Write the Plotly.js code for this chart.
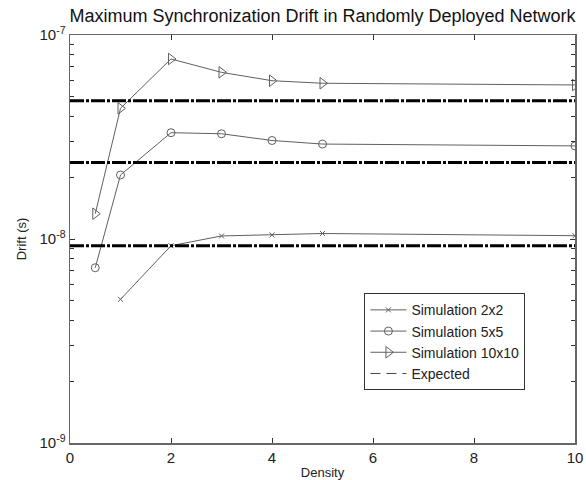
<!DOCTYPE html>
<html>
<head>
<meta charset="utf-8">
<script src="https://cdn.plot.ly/plotly-3.0.1.min.js"></script>
<style>html,body{margin:0;padding:0;background:#fff;}#chart{width:586px;height:480px;}</style>
</head>
<body>
<div id="chart"></div>
<script>
// Data
const density2x2 = [1, 2, 3, 4, 5, 10];
const drift2x2 = [5.06e-9, 9.27e-9, 1.035e-8, 1.047e-8, 1.064e-8, 1.038e-8];
const density5x5 = [0.5, 1, 2, 3, 4, 5, 10];
const drift5x5 = [7.23e-9, 2.06e-8, 3.32e-8, 3.28e-8, 3.04e-8, 2.92e-8, 2.86e-8];
const density10x10 = [0.5, 1, 2, 3, 4, 5, 10];
const drift10x10 = [1.33e-8, 4.37e-8, 7.63e-8, 6.56e-8, 5.97e-8, 5.80e-8, 5.69e-8];
const expectedX = [0, 10];
const expectedLevels = [9.26e-9, 2.37e-8, 4.76e-8];
const yDecades = [1e-9, 1e-8, 1e-7];
const yDecadeLabels = ['10<sup>-9</sup>', '10<sup>-8</sup>', '10<sup>-7</sup>'];
const yMinorMultipliers = [2, 3, 4, 5, 6, 7, 8, 9];
const xTicks = [0, 2, 4, 6, 8, 10];

const lineColor = '#606060';
const traces = [
  {x: density2x2, y: drift2x2, name: 'Simulation 2x2', mode: 'lines+markers',
   line: {color: lineColor, width: 1},
   marker: {symbol: 'x-thin-open', size: 5, color: lineColor, line: {color: lineColor, width: 1}}},
  {x: density5x5, y: drift5x5, name: 'Simulation 5x5', mode: 'lines+markers',
   line: {color: lineColor, width: 1},
   marker: {symbol: 'circle-open', size: 8, color: lineColor, line: {color: lineColor, width: 1}}},
  {x: density10x10, y: drift10x10, name: 'Simulation 10x10', mode: 'lines+markers',
   line: {color: lineColor, width: 1},
   marker: {symbol: 'triangle-right-open', size: 10, color: lineColor, line: {color: lineColor, width: 1}}}
];
expectedLevels.forEach((lv) => {
  traces.push({x: expectedX, y: expectedX.map(() => lv), name: 'Expected', mode: 'lines',
    showlegend: false, legendgroup: 'exp',
    line: {color: '#000', width: 3, dash: '14px,2px,3px,2px'}});
});
// legend entry for Expected (thin dashed sample as in the reference legend)
traces.push({x: [null], y: [null], name: 'Expected', mode: 'lines', legendgroup: 'exp',
  showlegend: true, line: {color: '#444', width: 1, dash: '10px,6px'}});

const yMinorVals = [];
for (let d = 0; d < yDecades.length - 1; d++) {
  yMinorMultipliers.forEach(m => yMinorVals.push(m * yDecades[d]));
}

const layout = {
  width: 586, height: 480,
  margin: {l: 70, r: 11, t: 35, b: 37},
  paper_bgcolor: '#fff', plot_bgcolor: '#fff',
  font: {family: 'Liberation Sans, Arial, sans-serif', size: 14, color: '#222'},
  title: {text: 'Maximum Synchronization Drift in Randomly Deployed Network',
    font: {size: 18, color: '#111'}, x: 0.5, xref: 'paper', xanchor: 'center',
    y: 0.967, yref: 'container', yanchor: 'middle'},
  showlegend: true,
  legend: {x: 0.583, y: 0.367, xanchor: 'left', yanchor: 'top',
    bordercolor: '#333', borderwidth: 1, bgcolor: '#fff',
    font: {size: 14, color: '#222'}, tracegroupgap: 0, itemwidth: 36},
  xaxis: {range: [0, 10], tickvals: xTicks, ticks: 'inside', ticklen: 5, tickcolor: '#333',
    tickfont: {size: 15},
    showline: true, linecolor: '#666', linewidth: 1.5, mirror: 'ticks', showgrid: false, zeroline: false,
    title: {text: 'Density', font: {size: 13}, standoff: 4}},
  yaxis: {type: 'log', range: [-9, -7], tickvals: yDecades, ticktext: yDecadeLabels,
    ticks: 'inside', ticklen: 5, tickcolor: '#333', tickfont: {size: 15},
    minor: {tickvals: yMinorVals, ticks: 'inside', ticklen: 4, tickcolor: '#333', showgrid: false},
    showline: true, linecolor: '#666', linewidth: 1.5, mirror: 'ticks', showgrid: false, zeroline: false,
    title: {text: 'Drift (s)', font: {size: 13}, standoff: 10}}
};

Plotly.newPlot('chart', traces, layout, {displayModeBar: false, staticPlot: true});
</script>
</body>
</html>
